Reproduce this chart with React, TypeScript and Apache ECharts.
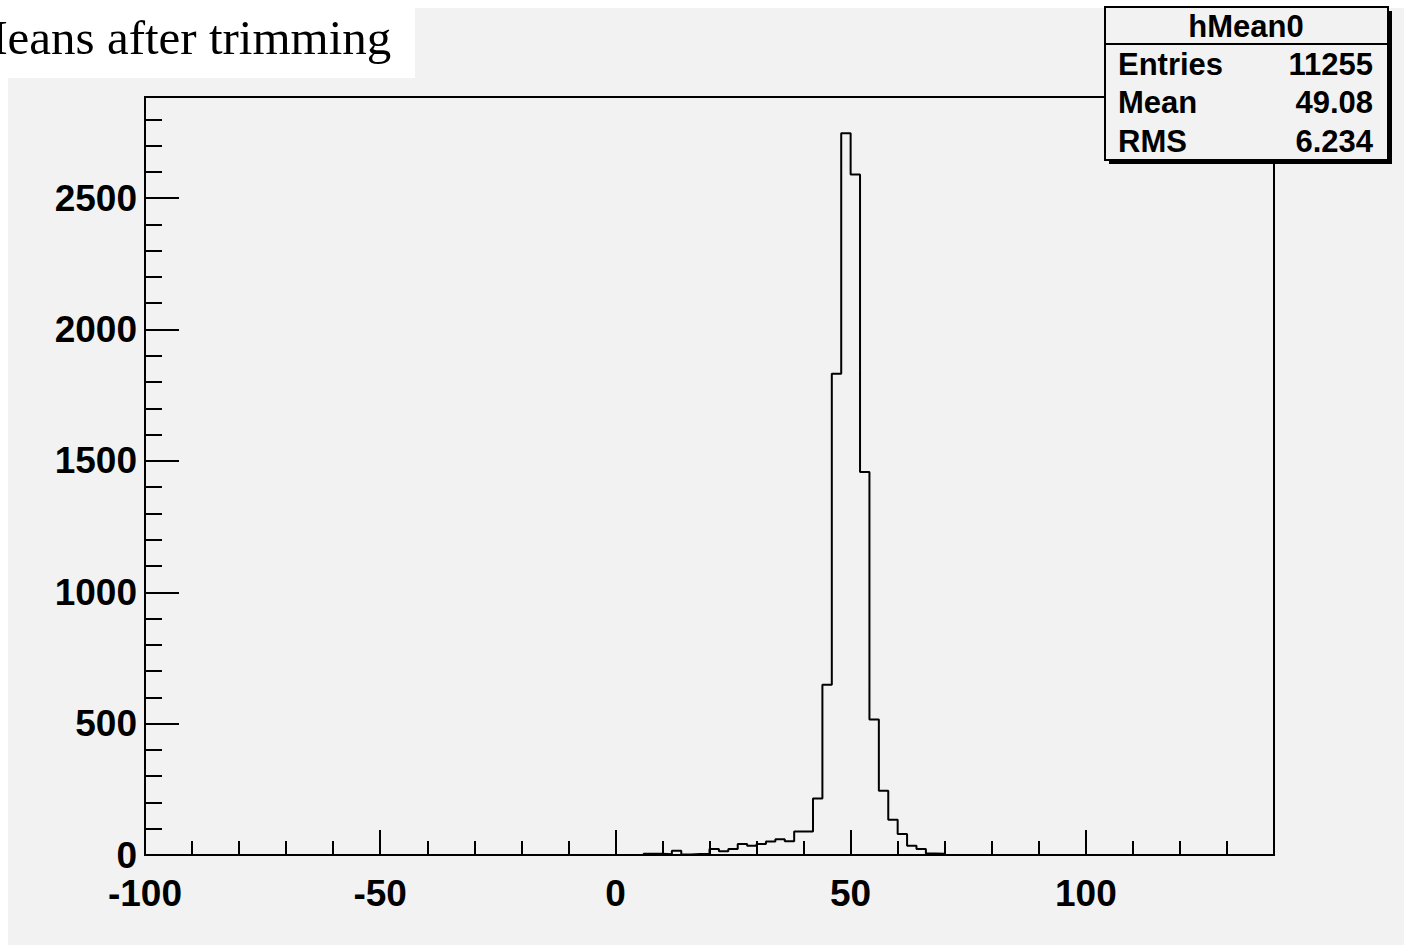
import React, { useEffect, useRef } from "react";
import * as echarts from "echarts";

const titleText = "Means after trimming";
const histName = "hMean0";
const statNames = ["Entries", "Mean", "RMS"];
const statValues = ["11255", "49.08", "6.234"];

const xMin = -100;
const xMax = 140;
const xMajor = 50;
const xMinor = 10;
const yMin = 0;
const yMax = 2885;
const yMajor = 500;
const yMinor = 100;

const binWidth = 2;
const binLowEdges = [6, 8, 10, 12, 14, 16, 18, 20, 22, 24, 26, 28, 30, 32, 34, 36, 38, 40, 42, 44, 46, 48, 50, 52, 54, 56, 58, 60, 62, 64, 66, 68];
const binCounts = [5, 5, 3, 16, 2, 4, 4, 23, 14, 23, 42, 35, 42, 51, 60, 52, 89, 89, 215, 648, 1832, 2747, 2590, 1458, 516, 245, 134, 80, 35, 23, 6, 5];

const FONT = '"Liberation Sans", Arial, Helvetica, sans-serif';
const SERIF = '"Liberation Serif", "Times New Roman", serif';

export default function App() {
  const ref = useRef<HTMLDivElement>(null);

  useEffect(() => {
    const chart = echarts.init(ref.current!, null, { renderer: "svg" });
    const data: [number, number][] = [[xMin, 0]];
    binLowEdges.forEach((e, i) => data.push([e, binCounts[i]]));
    data.push([binLowEdges[binLowEdges.length - 1] + binWidth, 0]);
    data.push([xMax, 0]);

    const labelStyle = {
      color: "#000",
      fontFamily: FONT,
      fontWeight: "bold" as const,
      fontSize: 37,
    };
    const lineStyle = { color: "#000", width: 2 };
    const statFont = `bold 31px ${FONT}`;

    chart.setOption({
      animation: false,
      backgroundColor: "#f2f2f2",
      grid: {
        left: 145,
        right: 130,
        top: 97,
        bottom: 90,
        show: true,
        borderColor: "#000",
        borderWidth: 2,
        backgroundColor: "transparent",
        containLabel: false,
      },
      xAxis: [
        {
          type: "value",
          position: "bottom",
          min: xMin,
          max: xMax,
          interval: xMajor,
          axisLine: { show: true, onZero: false, lineStyle },
          axisTick: { show: true, inside: true, length: 25, lineStyle },
          axisLabel: {
            ...labelStyle,
            margin: 20,
            showMinLabel: true,
            showMaxLabel: false,
            formatter: (v: number) => String(v),
          },
          splitLine: { show: false },
        },
        {
          type: "value",
          position: "bottom",
          min: xMin,
          max: xMax,
          interval: xMinor,
          axisLine: { show: false, onZero: false },
          axisTick: { show: true, inside: true, length: 14, lineStyle },
          axisLabel: { show: false },
          splitLine: { show: false },
        },
      ],
      yAxis: [
        {
          type: "value",
          position: "left",
          min: yMin,
          max: yMax,
          interval: yMajor,
          axisLine: { show: true, onZero: false, lineStyle },
          axisTick: { show: true, inside: true, length: 34, lineStyle },
          axisLabel: {
            ...labelStyle,
            margin: 8,
            showMinLabel: true,
            showMaxLabel: false,
            formatter: (v: number) => String(v),
          },
          splitLine: { show: false },
        },
        {
          type: "value",
          position: "left",
          min: yMin,
          max: yMax,
          interval: yMinor,
          axisLine: { show: false, onZero: false },
          axisTick: { show: true, inside: true, length: 17, lineStyle },
          axisLabel: { show: false },
          splitLine: { show: false },
        },
      ],
      series: [
        {
          type: "line",
          xAxisIndex: 0,
          yAxisIndex: 0,
          step: "end",
          showSymbol: false,
          symbol: "none",
          data,
          lineStyle: { color: "#000", width: 2 },
          z: 5,
        },
      ],
      graphic: [
        { type: "rect", z: 50, shape: { x: 0, y: 0, width: 1404, height: 8 }, style: { fill: "#fff" } },
        { type: "rect", z: 50, shape: { x: 0, y: 0, width: 8, height: 945 }, style: { fill: "#fff" } },
        { type: "rect", z: 60, shape: { x: 0, y: 0, width: 415, height: 78 }, style: { fill: "#fff" } },
        {
          type: "text",
          z: 61,
          x: -36,
          y: 62,
          style: {
            text: titleText,
            fill: "#000",
            font: `49px ${SERIF}`,
            textAlign: "left",
            textVerticalAlign: "bottom",
          },
        },
        { type: "rect", z: 60, shape: { x: 1109, y: 11, width: 283, height: 153 }, style: { fill: "#000" } },
        {
          type: "rect",
          z: 61,
          shape: { x: 1105, y: 7, width: 283, height: 153 },
          style: { fill: "#f2f2f2", stroke: "#000", lineWidth: 2 },
        },
        {
          type: "line",
          z: 62,
          shape: { x1: 1105, y1: 44, x2: 1388, y2: 44 },
          style: { stroke: "#000", lineWidth: 2 },
        },
        {
          type: "text",
          z: 62,
          x: 1246,
          y: 26,
          style: {
            text: histName,
            fill: "#000",
            font: statFont,
            textAlign: "center",
            textVerticalAlign: "middle",
          },
        },
        ...statNames.map((n, i) => ({
          type: "text",
          z: 62,
          x: 1118,
          y: 64 + i * 38.5,
          style: {
            text: n,
            fill: "#000",
            font: statFont,
            textAlign: "left",
            textVerticalAlign: "middle",
          },
        })),
        ...statValues.map((v, i) => ({
          type: "text",
          z: 62,
          x: 1373,
          y: 64 + i * 38.5,
          style: {
            text: v,
            fill: "#000",
            font: statFont,
            textAlign: "right",
            textVerticalAlign: "middle",
          },
        })),
      ],
    });
    return () => chart.dispose();
  }, []);

  return (
    <div
      ref={ref}
      style={{ position: "absolute", left: 0, top: 0, width: 1404, height: 945 }}
    />
  );
}
